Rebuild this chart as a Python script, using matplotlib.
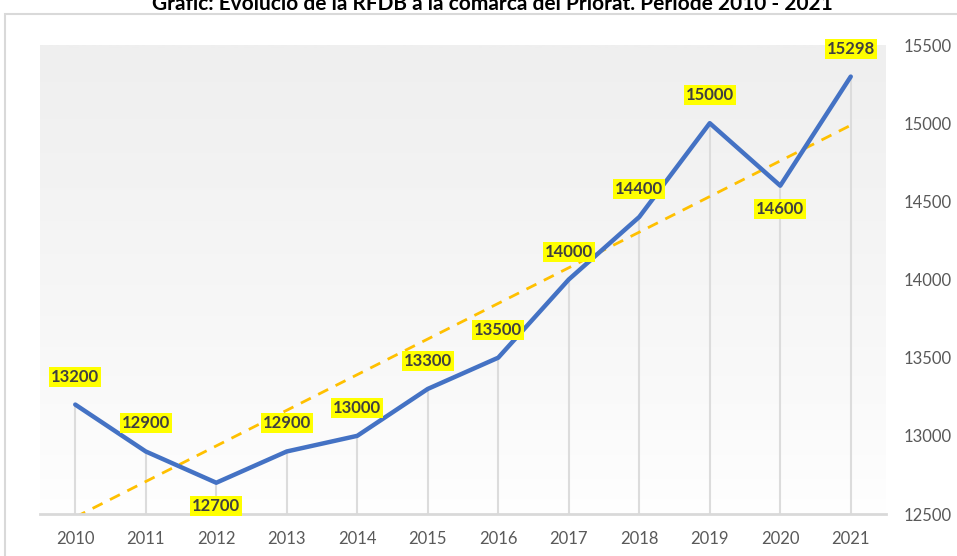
import numpy as np
import matplotlib.pyplot as plt
from matplotlib.patches import Rectangle
from matplotlib.colors import LinearSegmentedColormap

years = ['2010', '2011', '2012', '2013', '2014', '2015', '2016', '2017', '2018', '2019', '2020', '2021']
rfdb = [13200, 12900, 12700, 12900, 13000, 13300, 13500, 14000, 14400, 15000, 14600, 15298]
# labels under the point for these years
below = ['2012', '2020']

title = "Gràfic: Evolució de la RFDB a la comarca del Priorat. Període 2010 - 2021"

plt.rcParams['font.family'] = ['Lato', 'DejaVu Sans']

x = np.arange(len(years))
y = np.array(rfdb)

fig = plt.figure(figsize=(9.57, 5.56), dpi=100)
# outer chart frame (cropped at right/bottom)
fig.patches.append(Rectangle((5 / 957, -0.1), 1.1, 1.1 - 14 / 556,
                             transform=fig.transFigure, fill=False,
                             edgecolor='#d9d9d9', lw=1.5))
fig.text(0.514, 1 - 4 / 556, title, ha='center', va='center', fontsize=15,
         fontweight='bold', color='black')

ax = fig.add_axes([40 / 957, 42 / 556, 846 / 957, 469 / 556])
ax.set_xlim(-0.5, len(years) - 0.5)
ax.set_ylim(12500, 15500)

# gradient background
grad = np.linspace(0, 1, 256).reshape(-1, 1) ** 0.8
cm = LinearSegmentedColormap.from_list('g', ['#ffffff', '#efefef'])
ax.imshow(grad, cmap=cm, aspect='auto',
          extent=[-0.5, len(years) - 0.5, 15500, 12500], zorder=0)

# drop lines
ax.vlines(x, 12500, y, colors='#dcdcdc', lw=1.5, zorder=1)

# linear trend
coef = np.polyfit(x, y, 1)
ax.plot(x, np.polyval(coef, x), color='#FFC000', lw=2, ls=(0, (4, 3)), zorder=2)

ax.plot(x, y, color='#4472C4', lw=3.2, zorder=3, solid_capstyle='round')

for xi, yi, yr in zip(x, y, years):
    if yr in below:
        off = -23
    else:
        off = 28
    ax.annotate(str(yi), (xi, yi), xytext=(0, off), textcoords='offset pixels',
                ha='center', va='center', fontsize=12, fontweight='bold', color='#404040',
                bbox=dict(boxstyle='square,pad=0.12', fc='#FFFF00', ec='none'), zorder=5)

ax.set_xticks(x)
ax.set_xticklabels(years)
ax.yaxis.tick_right()
ax.set_yticks(np.arange(12500, 15501, 500))
ax.tick_params(axis='both', length=0, labelsize=12, labelcolor='#595959')
ax.tick_params(axis='x', pad=12)
ax.tick_params(axis='y', pad=13)
for s in ['top', 'left', 'right']:
    ax.spines[s].set_visible(False)
ax.spines['bottom'].set_color('#d9d9d9')
ax.spines['bottom'].set_linewidth(2)

fig.savefig('out.png', dpi=100)
